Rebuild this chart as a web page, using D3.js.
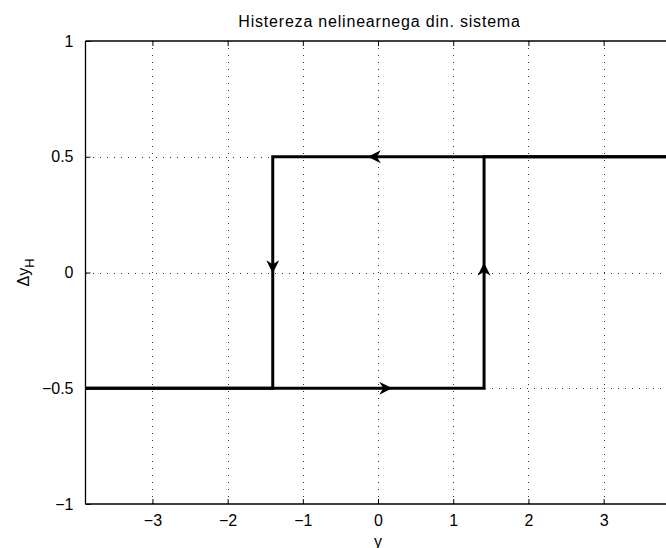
<!DOCTYPE html>
<html>
<head>
<meta charset="utf-8">
<script src="https://cdn.jsdelivr.net/npm/d3@7"></script>
<style>
  body { margin: 0; background: #fff; }
  text { font-family: "Liberation Sans", Arial, Helvetica, sans-serif; fill: #000; }
</style>
</head>
<body>
<div id="chart"></div>
<script>
// data
const xTicks = [-3, -2, -1, 0, 1, 2, 3];
const yTicks = [-1, -0.5, 0, 0.5, 1];
const lowerX = [-3.89, 1.41, 1.41, 3.89];
const lowerY = [-0.5, -0.5, 0.5, 0.5];
const upperX = [3.89, -1.4, -1.4, -3.89];
const upperY = [0.5, 0.5, -0.5, -0.5];
// arrow tips: x, y, direction
const arrowX = [-0.136, 0.189, -1.4, 1.41];
const arrowY = [0.5, -0.5, -0.003, 0.042];
const arrowDir = ["left", "right", "down", "up"];

const width = 666, height = 548;
const plotLeft = 85.5, plotTop = 41, plotBottom = 504;

const svg = d3.select("#chart").append("svg")
    .attr("width", width)
    .attr("height", height);

const x = d3.scaleLinear().domain([-3.89, 3.89]).range([plotLeft, plotLeft + 7.78 * 75.2]);
const y = d3.scaleLinear().domain([-1, 1]).range([plotBottom, plotTop]);
const plotRight = x(3.89);

const fmt = d => d3.format("")(d).replace("-", "\u2212");

// grid
const grid = svg.append("g")
    .attr("stroke", "#333")
    .attr("stroke-width", 1)
    .attr("stroke-dasharray", "1,6")
    .attr("shape-rendering", "crispEdges");
grid.selectAll(".gx").data(xTicks).join("line")
    .attr("class", "gx")
    .attr("x1", d => Math.round(x(d)) + 0.5).attr("x2", d => Math.round(x(d)) + 0.5)
    .attr("y1", plotTop).attr("y2", plotBottom);
grid.selectAll(".gy").data(yTicks.filter(d => d > -1 && d < 1)).join("line")
    .attr("class", "gy")
    .attr("y1", d => Math.round(y(d)) + 0.5).attr("y2", d => Math.round(y(d)) + 0.5)
    .attr("x1", plotLeft).attr("x2", plotRight);

// axes (MATLAB box, ticks inward)
const xBottom = d3.axisBottom(x).tickValues(xTicks).tickSize(-5).tickPadding(11).tickFormat(fmt);
const xTop = d3.axisTop(x).tickValues(xTicks).tickSize(-5).tickFormat("");
const yLeft = d3.axisLeft(y).tickValues(yTicks).tickSize(-5).tickPadding(12).tickFormat(fmt);

function styleAxis(g) {
    g.select(".domain").attr("stroke-width", 1.3);
    g.selectAll(".tick line").attr("stroke-width", 1);
    g.selectAll(".tick text").style("font-size", "16px");
}

svg.append("g").attr("transform", `translate(0,${plotBottom})`).call(xBottom).call(styleAxis)
    .call(g => g.select(".domain").attr("d", `M${plotLeft},0H${plotRight}`));
svg.append("g").attr("transform", `translate(0,${plotTop})`).call(xTop).call(styleAxis)
    .call(g => g.select(".domain").attr("d", `M${plotLeft},0H${plotRight}`));
svg.append("g").attr("transform", `translate(${plotLeft},0)`).call(yLeft).call(styleAxis)
    .call(g => g.select(".domain").attr("d", `M0,${plotTop}V${plotBottom}`));

// hysteresis branches
const line = d3.line().x(d => x(d[0])).y(d => y(d[1]));
[[lowerX, lowerY], [upperX, upperY]].forEach(([xs, ys]) => {
    svg.append("path")
        .attr("d", line(xs.map((v, i) => [v, ys[i]])))
        .attr("fill", "none")
        .attr("stroke", "#000")
        .attr("stroke-width", 3)
        .attr("stroke-linejoin", "miter");
});

// arrowheads
const rot = { right: 0, down: 90, left: 180, up: 270 };
svg.selectAll(".arrow").data(arrowX).join("path")
    .attr("class", "arrow")
    .attr("d", "M0,0L-13,-6.5L-9,0L-13,6.5Z")
    .attr("fill", "#000")
    .attr("transform", (d, i) => `translate(${x(d)},${y(arrowY[i])}) rotate(${rot[arrowDir[i]]})`);

// title and labels
svg.append("text")
    .attr("x", 379.5).attr("y", 27)
    .attr("text-anchor", "middle")
    .style("font-size", "16px")
    .style("letter-spacing", "0.8px")
    .text("Histereza nelinearnega din. sistema");

svg.append("text")
    .attr("x", x(0)).attr("y", 547)
    .attr("text-anchor", "middle")
    .style("font-size", "16px")
    .text("y");

const yl = svg.append("text")
    .attr("transform", `translate(29,${y(0)}) rotate(-90)`)
    .attr("text-anchor", "middle")
    .style("font-size", "16px");
yl.append("tspan").text("\u0394y");
yl.append("tspan").attr("dy", 5).style("font-size", "13px").text("H");
</script>
</body>
</html>
